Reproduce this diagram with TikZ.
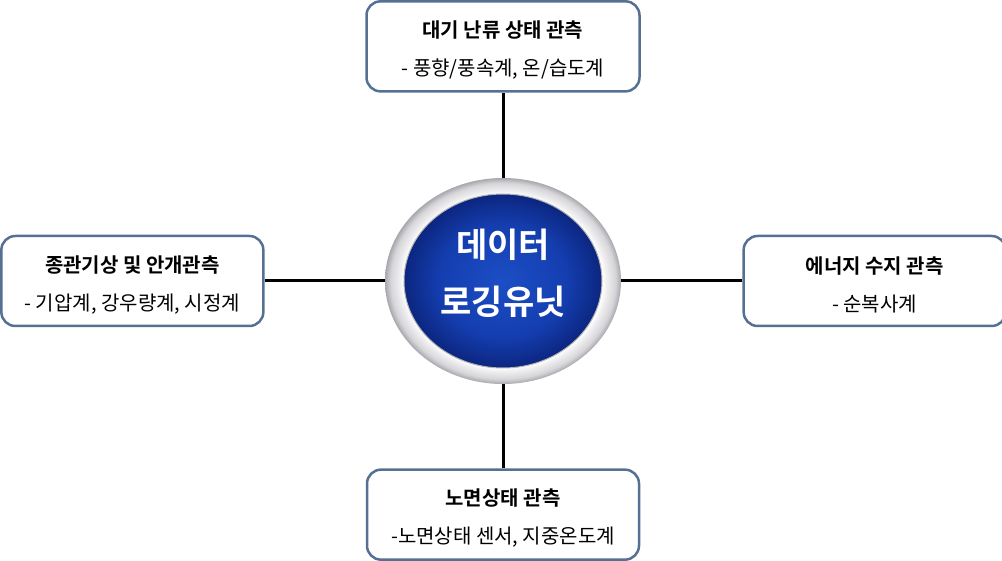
\documentclass[tikz,border=0pt]{standalone}
\usepackage{fontspec}
\setmainfont{Noto Sans CJK KR}[BoldFont={Noto Sans CJK KR Bold}]
\usetikzlibrary{positioning,shapes.geometric}
\definecolor{boxblue}{RGB}{86,112,148}
\definecolor{ringdark}{RGB}{168,168,172}
\definecolor{ringmid}{RGB}{214,214,218}
\definecolor{ringlight}{RGB}{238,238,240}
\definecolor{coreblue}{RGB}{28,78,196}
\definecolor{coremid}{RGB}{20,62,176}
\definecolor{coredark}{RGB}{12,38,128}
\pgfdeclareradialshading{ringshade}{\pgfpoint{0bp}{0bp}}{color(0bp)=(white); color(21bp)=(white); color(22bp)=(ringlight); color(23.8bp)=(ringmid); color(25bp)=(ringdark); color(50bp)=(ringdark)}
\pgfdeclareradialshading{coreshade}{\pgfpoint{0bp}{0bp}}{color(0bp)=(coreblue); color(16bp)=(coremid); color(25bp)=(coredark); color(50bp)=(coredark)}
\newcommand{\obstitle}[1]{\rule{0pt}{24pt}\textbf{#1}}

\begin{document}
\begin{tikzpicture}[x=1pt,y=-1pt,thick,
    obs box/.style={rectangle,rounded corners=14pt,draw=boxblue,line width=2.5pt,
      fill=white,minimum height=90pt,align=center,
      font=\fontsize{20}{38}\selectfont},
    ring node/.style={ellipse,inner sep=0pt,minimum width=236pt,minimum height=206pt,
      shading=ringshade},
    core node/.style={ellipse,inner sep=0pt,minimum width=198pt,minimum height=174pt,
      shading=coreshade,draw=gray!60,line width=1pt,text=white,align=center,
      font=\fontsize{34}{57}\selectfont\bfseries,
      execute at end node={\rule[-18pt]{0pt}{1pt}}}]
    \useasboundingbox (0,0) rectangle (1002,561);
    % nodes
      \node[ring node] (ring) at (503,281) {};
      \node[core node] (data) at (ring.center) {데이터\\로깅유닛};
      \node[obs box,minimum width=273pt] (top) [above=85pt of ring] {\obstitle{대기 난류 상태 관측}\\- 풍향/풍속계, 온/습도계};
      \node[obs box,minimum width=262pt] (left) [left=120pt of ring] {\obstitle{종관기상 및 안개관측}\\- 기압계, 강우량계, 시정계};
      \node[obs box,minimum width=262pt] (right) [right=121pt of ring] {\obstitle{에너지 수지 관측}\\- 순복사계};
      \node[obs box,minimum width=272pt] (bottom) [below=84pt of ring] {\obstitle{노면상태 관측}\\-노면상태 센서, 지중온도계};
      %edges
      \path[draw=black,line width=3pt]
        (ring) edge (top)
        (ring) edge (left)
        (ring) edge (right)
        (ring) edge (bottom);
    \end{tikzpicture}
\end{document}
